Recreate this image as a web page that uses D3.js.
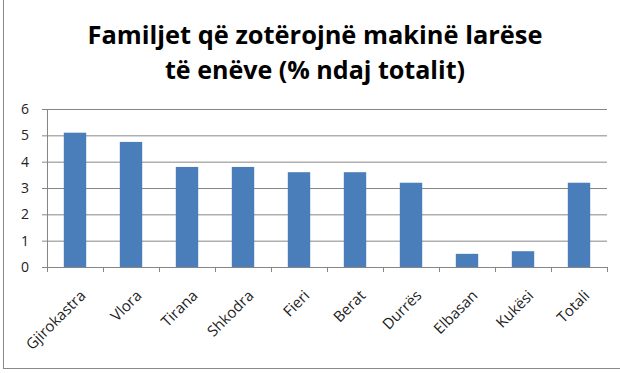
<!DOCTYPE html>
<html>
<head>
<meta charset="utf-8">
<script src="https://cdn.jsdelivr.net/npm/d3@7"></script>
<style>
  body { margin: 0; background: #fff; }
  svg { display: block; }
</style>
</head>
<body>
<div id="chart"></div>
<script>
var titleLines = ["Familjet që zotërojnë makinë larëse", "të enëve (% ndaj totalit)"];
var categories = ["Gjirokastra", "Vlora", "Tirana", "Shkodra", "Fieri", "Berat", "Durrës", "Elbasan", "Kukësi", "Totali"];
var values = [5.1, 4.75, 3.8, 3.8, 3.6, 3.6, 3.2, 0.5, 0.6, 3.2];
var yTicks = [0, 1, 2, 3, 4, 5, 6];

var width = 620, height = 373;
var plot = { left: 47, right: 607, top: 109, bottom: 267 };
var font = "'Open Sans', 'Liberation Sans', sans-serif";

var svg = d3.select("#chart").append("svg")
    .attr("width", width)
    .attr("height", height);

svg.append("rect")
    .attr("x", 3.5).attr("y", -5)
    .attr("width", 630).attr("height", 373.5)
    .attr("fill", "#fff")
    .attr("stroke", "#888")
    .attr("stroke-width", 1);

// title
var titleLen = [455, 300];
svg.selectAll(".title")
    .data(titleLines)
    .enter().append("text")
    .attr("class", "title")
    .attr("x", 315)
    .attr("y", function(d, i) { return 44 + i * 35; })
    .attr("text-anchor", "middle")
    .attr("textLength", function(d, i) { return titleLen[i]; })
    .attr("lengthAdjust", "spacingAndGlyphs")
    .style("font-family", font)
    .style("font-weight", "bold")
    .style("font-size", "25px")
    .style("fill", "#000")
    .text(function(d) { return d; });

var x = d3.scaleBand()
    .domain(categories)
    .range([plot.left, plot.right])
    .paddingInner(0.6)
    .paddingOuter(0.3);

var y = d3.scaleLinear()
    .domain([0, 6])
    .range([plot.bottom, plot.top]);

// gridlines
svg.append("g")
    .attr("transform", "translate(" + plot.left + ",0)")
    .call(d3.axisLeft(y).tickValues(yTicks).tickSize(-(plot.right - plot.left)).tickFormat(""))
    .call(function(g) {
        g.select(".domain").remove();
        g.selectAll("line").attr("stroke", "#868686").attr("stroke-width", 1);
    });

// y axis
svg.append("g")
    .attr("transform", "translate(" + plot.left + ",0)")
    .call(d3.axisLeft(y).tickValues(yTicks).tickSize(5).tickPadding(13).tickFormat(d3.format("d")))
    .call(function(g) {
        g.select(".domain").attr("stroke", "#868686");
        g.selectAll("line").attr("stroke", "#868686");
        g.selectAll("text")
            .style("font-family", font)
            .style("font-size", "14px")
            .style("fill", "#222");
    });

// bars
svg.selectAll(".bar")
    .data(values)
    .enter().append("rect")
    .attr("class", "bar")
    .attr("x", function(d, i) { return x(categories[i]); })
    .attr("width", x.bandwidth())
    .attr("y", function(d) { return y(d); })
    .attr("height", function(d) { return y(0) - y(d); })
    .attr("fill", "#4a7ebb");

// x axis, ticks between categories
var xEdges = d3.range(categories.length + 1).map(function(i) {
    return plot.left + i * (plot.right - plot.left) / categories.length;
});
var xAxis = svg.append("g").attr("class", "x-axis");
xAxis.append("line")
    .attr("x1", plot.left).attr("x2", plot.right)
    .attr("y1", plot.bottom + 0.5).attr("y2", plot.bottom + 0.5)
    .attr("stroke", "#868686");
xAxis.selectAll(".xtick")
    .data(xEdges)
    .enter().append("line")
    .attr("x1", function(d) { return Math.round(d) + 0.5; })
    .attr("x2", function(d) { return Math.round(d) + 0.5; })
    .attr("y1", plot.bottom).attr("y2", plot.bottom + 5)
    .attr("stroke", "#868686");

xAxis.selectAll(".xlabel")
    .data(categories)
    .enter().append("text")
    .attr("class", "xlabel")
    .attr("transform", function(d) {
        return "translate(" + (x(d) + x.bandwidth() / 2 + 4) + "," + (plot.bottom + 22) + ") rotate(-45)";
    })
    .attr("text-anchor", "end")
    .attr("dy", "0.71em")
    .style("font-family", font)
    .style("font-size", "15px")
    .style("fill", "#222")
    .text(function(d) { return d; });
</script>
</body>
</html>
